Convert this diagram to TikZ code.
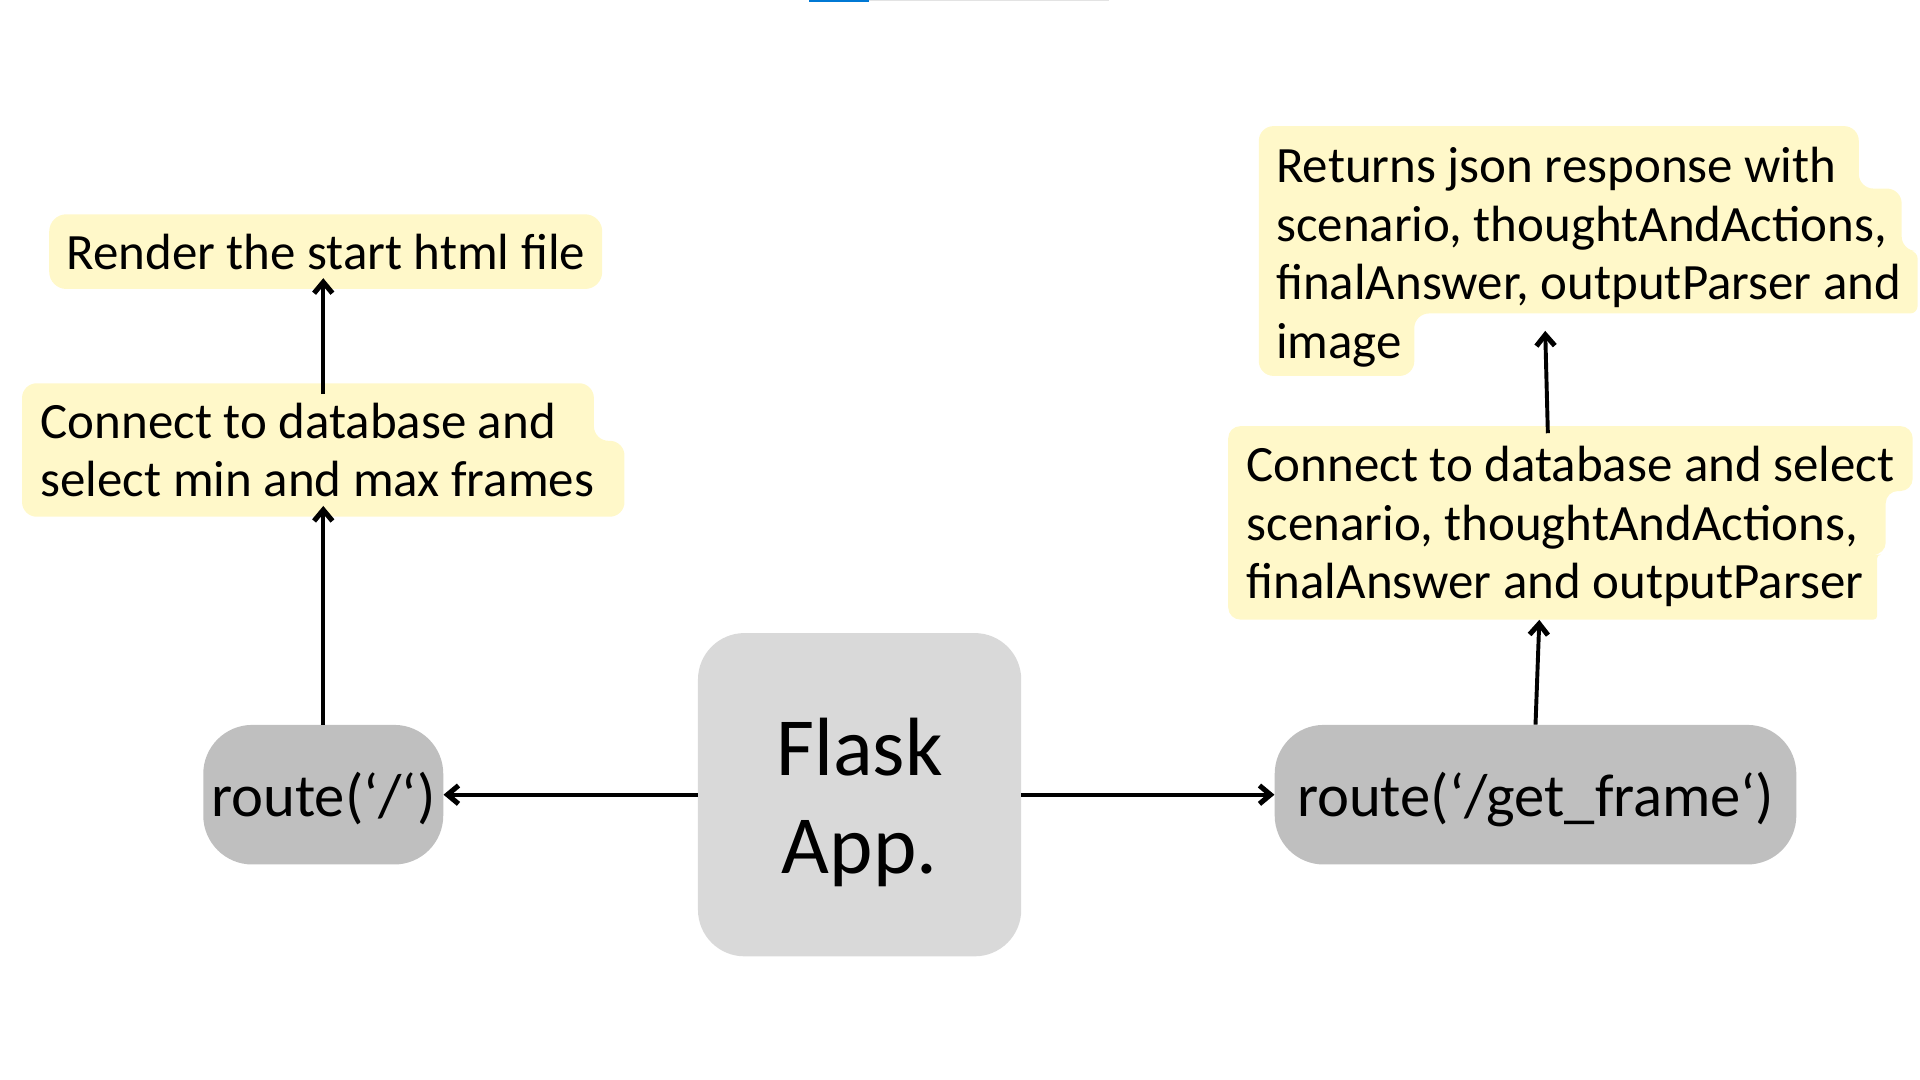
\documentclass[tikz,border=0pt]{standalone}
\usepackage{fontspec}
\setmainfont{Carlito}
\usetikzlibrary{arrows.meta}
\newlength{\du}
\setlength{\du}{1pt}
\definecolor{hlyellow}{HTML}{FFF8C9}
\definecolor{routegray}{HTML}{BFBFBF}
\definecolor{flaskgray}{HTML}{D9D9D9}
\definecolor{barblue}{HTML}{0078D4}
\definecolor{bargray}{HTML}{E3E3E3}

\begin{document}
\begin{tikzpicture}[
  note/.style={anchor=west, align=left, inner xsep=14\du, inner ysep=0pt,
    font=\fontsize{41.6}{48}\selectfont},
  routebox/.style={fill=routegray, rounded corners=40\du, inner xsep=0pt,
    minimum height=114\du, text height=48\du, text depth=12\du,
    font=\fontsize{49.5}{56}\selectfont},
  flaskbox/.style={fill=flaskgray, rounded corners=38\du,
    minimum width=264\du, minimum height=264\du},
  flasktext/.style={align=center, yshift=-6\du, font=\fontsize{67.5}{80}\selectfont},
  flow/.style={line width=3.2pt, -{Straight Barb[length=9pt, width=15pt, line width=0pt 1.3]}}
]
\pgftransformxscale{1.000000}
\pgftransformyscale{-1.000000}
\useasboundingbox (0\du,0\du) rectangle (1568\du,882\du);
% bar at the top edge
\fill[barblue] (661\du,0\du) rectangle (710\du,2\du);
\fill[bargray] (710\du,0\du) rectangle (906\du,1.2\du);
% highlight behind the texts
\fill[hlyellow, rounded corners=12\du] (18\du,313\du)--(485\du,313\du)--(485\du,360\du)--(510\du,360\du)--(510\du,422\du)--(18\du,422\du)--cycle;
\fill[hlyellow, rounded corners=10\du] (1003\du,348\du)--(1562\du,348\du)--(1562\du,401\du)--(1540\du,401\du)--(1540\du,453\du)[rounded corners=3\du]--(1533\du,453\du)--(1533\du,506\du)[rounded corners=10\du]--(1003\du,506\du)--cycle;
\fill[hlyellow, rounded corners=12\du] (1028\du,103\du)--(1518\du,103\du)--(1518\du,154\du)--(1553\du,154\du)--(1553\du,205\du)[rounded corners=6\du]--(1566\du,205\du)--(1566\du,256\du)[rounded corners=12\du]--(1155\du,256\du)--(1155\du,307\du)--(1028\du,307\du)--cycle;
% boxes
\node[flaskbox, label={[flasktext]center:Flask\\App.}] (flask) at (702\du,649\du) {};
\node[routebox, minimum width=196\du] (rootroute) at (264\du,649\du) {route(‘/‘)};
\node[routebox, minimum width=426\du] (frameroute) at (1254\du,649\du) {route(‘/get\_frame‘)};
\node[note, fill=hlyellow, rounded corners=14\du, minimum height=61\du] (render) at (40\du,205.5\du) {Render the start html file};
\node[note, inner xsep=15\du, minimum height=109\du] (conn1) at (18\du,367.5\du) {Connect to database and\\select min and max frames};
\node[note, inner xsep=15\du, minimum height=158\du] (conn2) at (1003\du,430\du) {Connect to database and select\\scenario, thoughtAndActions,\\finalAnswer and outputParser};
\node[note, minimum height=204\du] (ret) at (1028\du,210\du) {Returns json response with\\scenario, thoughtAndActions,\\finalAnswer, outputParser and\\image};
% arrows
\draw[flow] (flask.west) -- (rootroute.east);
\draw[flow] (flask.east) -- (frameroute.west);
\draw[flow, shorten >=-9\du] (rootroute.north) -- (rootroute.north |- conn1.south);
\draw[flow, shorten <=-9\du, shorten >=-9\du] (rootroute.north |- conn1.north) -- (rootroute.north |- render.south);
\draw[flow, shorten >=-3\du] (frameroute.north) -- ([xshift=3\du]frameroute.north |- conn2.south);
\draw[flow, shorten <=-3\du, shorten >=-42\du] ([xshift=10\du]frameroute.north |- conn2.north) -- ([xshift=9\du]frameroute.north |- ret.south);
\end{tikzpicture}
\end{document}
